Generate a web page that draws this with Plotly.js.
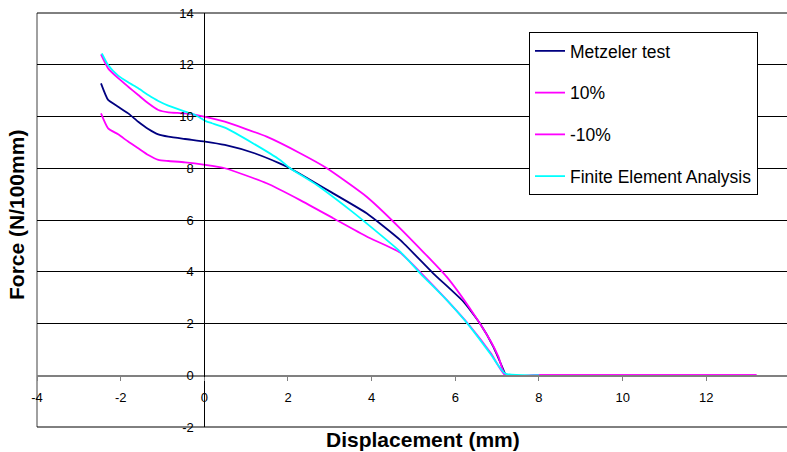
<!DOCTYPE html>
<html>
<head>
<meta charset="utf-8">
<script src="https://cdn.plot.ly/plotly-3.0.1.min.js"></script>
<style>
html,body{margin:0;padding:0;overflow:hidden;background:#fff;}
#chart{width:792px;height:452px;}
</style>
</head>
<body>
<div id="chart"></div>
<script>
// Metzeler test
const metzX = [-2.47, -2.30, -2.06, -1.82, -1.58, -1.34, -1.10, -0.86, -0.46, 0.02, 0.49, 1.2, 1.8, 2.05, 3.08, 3.88, 4.68, 5.47, 6.19, 6.59, 6.91, 7.2];
const metzY = [11.28, 10.64, 10.38, 10.12, 9.80, 9.52, 9.31, 9.22, 9.13, 9.03, 8.90, 8.58, 8.19, 8.0, 7.03, 6.26, 5.23, 3.94, 2.85, 2.0, 1.1, 0.02];
// +10%
const plusX = [-2.47, -2.30, -2.06, -1.82, -1.58, -1.34, -1.10, -0.86, -0.46, 0.02, 0.49, 1.49, 2.29, 2.93, 3.88, 4.68, 5.79, 6.43, 6.83, 7.03, 7.2, 8.0, 13.2];
const plusY = [12.40, 11.86, 11.48, 11.15, 10.83, 10.51, 10.25, 10.16, 10.12, 9.99, 9.80, 9.22, 8.58, 8.0, 6.90, 5.68, 3.81, 2.39, 1.36, 0.72, 0.0, 0.0, 0.0];
// -10%
const minusX = [-2.47, -2.30, -2.06, -1.82, -1.58, -1.34, -1.10, -0.86, -0.46, 0.02, 0.49, 1.49, 2.29, 3.08, 3.88, 4.68, 5.2, 5.8, 6.35, 6.85, 7.2, 8.0, 13.2];
const minusY = [10.12, 9.54, 9.31, 9.03, 8.77, 8.51, 8.32, 8.28, 8.23, 8.13, 8.0, 7.42, 6.77, 6.07, 5.36, 4.74, 3.92, 2.9, 1.9, 0.85, 0.0, 0.0, 0.0];
// Finite Element Analysis
const feaX = [-2.45, -2.30, -2.06, -1.82, -1.58, -1.34, -1.10, -0.86, -0.46, -0.22, 0.02, 0.18, 0.49, 1.17, 1.81, 2.05, 2.69, 3.48, 3.88, 4.68, 5.16, 5.79, 6.35, 6.83, 7.19, 8.0];
const feaY = [12.44, 11.99, 11.58, 11.32, 11.09, 10.83, 10.60, 10.42, 10.19, 10.06, 9.83, 9.74, 9.57, 8.96, 8.32, 8.0, 7.35, 6.39, 5.87, 4.78, 3.94, 2.91, 1.88, 0.85, 0.07, 0.0];

const seriesNames = ["Metzeler test", "10%", "-10%", "Finite Element Analysis"];
const xTicks = [-4, -2, 0, 2, 4, 6, 8, 10, 12, 14];
const yTicks = [-2, 0, 2, 4, 6, 8, 10, 12, 14];

const font = 'Liberation Sans, Arial, sans-serif';
const colors = ['#000080', '#FF00FF', '#FF00FF', '#00FFFF'];
const xs = [metzX, plusX, minusX, feaX];
const ys = [metzY, plusY, minusY, feaY];

const traces = xs.map((x, i) => ({
  x: x, y: ys[i], name: seriesNames[i], type: 'scatter', mode: 'lines',
  line: {color: colors[i], width: 1.8, shape: 'spline', smoothing: 0.5},
  legendgroup: 'g' + i
}));

const layout = {
  width: 792, height: 452,
  margin: {l: 37, r: 2, t: 13, b: 25},
  paper_bgcolor: '#fff', plot_bgcolor: '#fff',
  showlegend: true,
  legend: {
    x: 0.6534, y: (427-32)/414, xanchor: 'left', yanchor: 'top',
    bgcolor: '#fff', bordercolor: '#000', borderwidth: 1,
    font: {family: font, size: 17.5, color: '#000'},
    traceorder: 'grouped', tracegroupgap: 16,
    entrywidth: 232, entrywidthmode: 'pixels'
  },
  xaxis: {
    range: [-4, 14.001], tickvals: xTicks, ticktext: xTicks.map(String),
    showgrid: false, zeroline: false,
    anchor: 'free', position: 2/16,
    showline: true, linecolor: '#808080', linewidth: 1.5,
    ticks: 'outside', ticklen: 4, tickcolor: '#808080',
    tickfont: {family: font, size: 13, color: '#000'},
    ticklabelstandoff: 6
  },
  yaxis: {
    range: [-2, 14], tickvals: yTicks, ticktext: yTicks.map(String),
    showgrid: true, gridcolor: '#000', gridwidth: 1,
    zeroline: false,
    anchor: 'free', position: 4/18,
    showline: true, linecolor: '#000', linewidth: 1,
    ticks: '',
    tickfont: {family: font, size: 13, color: '#000'},
    ticklabelstandoff: 8
  },
  shapes: [
    {type: 'line', xref: 'paper', yref: 'paper', x0: 0, x1: 0, y0: 0, y1: 1, line: {color: '#808080', width: 1.5}, layer: 'below'},
    {type: 'line', xref: 'paper', yref: 'paper', x0: 1, x1: 1, y0: 0, y1: 1, line: {color: '#808080', width: 1.5}, layer: 'below'},
    {type: 'line', xref: 'paper', yref: 'paper', x0: 0, x1: 1, y0: 1, y1: 1, line: {color: '#000', width: 1}, layer: 'below'},
    {type: 'line', xref: 'paper', yref: 'paper', x0: 0, x1: 1, y0: 0, y1: 0, line: {color: '#000', width: 1}, layer: 'below'}
  ],
  annotations: [
    {text: '<b>Displacement (mm)</b>', xref: 'paper', yref: 'paper', x: (423-37)/753, y: (427-440)/414,
     xanchor: 'center', yanchor: 'middle', showarrow: false, font: {family: font, size: 21, color: '#000'}},
    {text: '<b>Force (N/100mm)</b>', xref: 'paper', yref: 'paper', x: (17-37)/753, y: (427-215)/414,
     xanchor: 'center', yanchor: 'middle', showarrow: false, textangle: -90, font: {family: font, size: 21, color: '#000'}}
  ]
};

Plotly.newPlot('chart', traces, layout, {displayModeBar: false, staticPlot: true});
</script>
</body>
</html>
